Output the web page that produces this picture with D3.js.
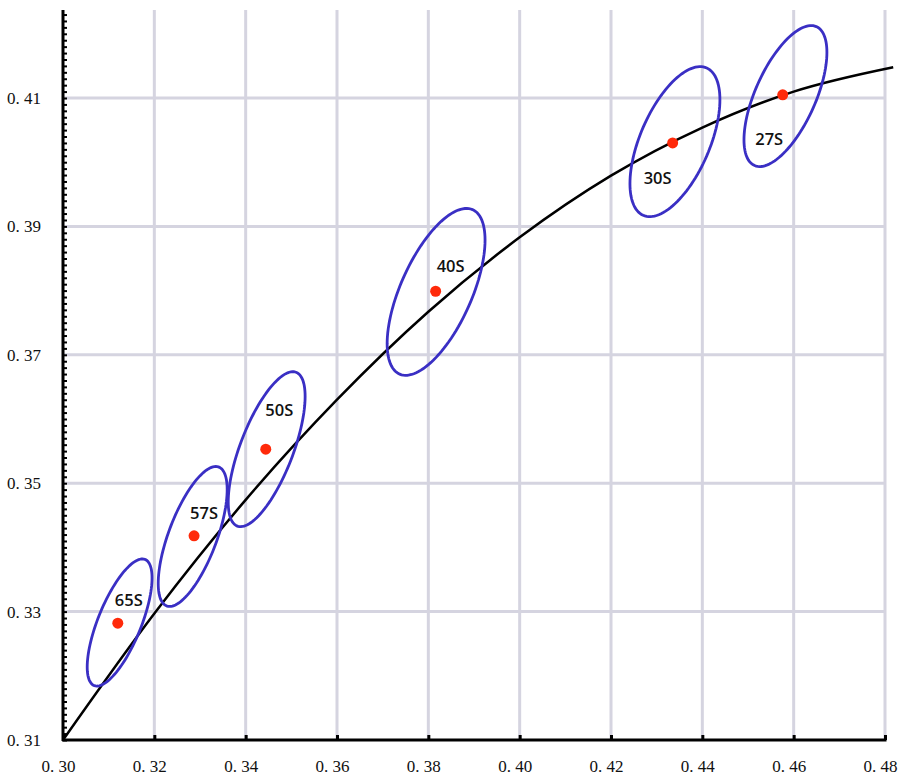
<!DOCTYPE html>
<html>
<head>
<meta charset="utf-8">
<script src="https://cdn.jsdelivr.net/npm/d3@7"></script>
<style>
  body { margin: 0; background: #fff; }
  svg { display: block; }
</style>
</head>
<body>
<div id="chart"></div>
<script>
// tick values
const xTicks = [0.30, 0.32, 0.34, 0.36, 0.38, 0.40, 0.42, 0.44, 0.46, 0.48];
const yTicks = [0.31, 0.33, 0.35, 0.37, 0.39, 0.41];

// samples (red dots)
const samples = ["65S", "57S", "50S", "40S", "30S", "27S"];
const sampleX = [0.3120, 0.3287, 0.3444, 0.3816, 0.4335, 0.4576];
const sampleY = [0.3282, 0.3418, 0.3553, 0.3799, 0.4030, 0.4105];

// error ellipses (centre, sd x, sd y, correlation)
const ellCx = [0.3124, 0.3284, 0.3446, 0.3817, 0.4340, 0.4582];
const ellCy = [0.3283, 0.3417, 0.3553, 0.3798, 0.4032, 0.4103];
const ellSx = [0.0071, 0.00755, 0.00842, 0.01072, 0.00985, 0.00908];
const ellSy = [0.0099, 0.0109, 0.01207, 0.0130, 0.01168, 0.01098];
const ellRho = [0.70, 0.67, 0.68, 0.62, 0.56, 0.62];

// black reference curve
const curveX = [0.30, 0.32, 0.34, 0.36, 0.38, 0.40, 0.42, 0.44, 0.46, 0.4818];
const curveY = [0.310, 0.3297, 0.3474, 0.3630, 0.3767, 0.3883, 0.3979, 0.4054, 0.4110, 0.4148];

const W = 899, H = 778;
const svg = d3.select("#chart").append("svg")
    .attr("width", W)
    .attr("height", H);

const x = d3.scaleLinear().domain([0.30, 0.48]).range([63, 885]);
const y = d3.scaleLinear().domain([0.31, 0.41]).range([740, 98]);
const yTop = 0.4237;

// grid
svg.append("g")
    .selectAll("line.vg")
    .data(xTicks.slice(1))
    .enter().append("line")
    .attr("x1", d => x(d)).attr("x2", d => x(d))
    .attr("y1", y(0.31)).attr("y2", y(yTop))
    .attr("stroke", "#d5d4e0")
    .attr("stroke-width", 3);

svg.append("g")
    .selectAll("line.hg")
    .data(yTicks.slice(1))
    .enter().append("line")
    .attr("x1", x(0.30)).attr("x2", x(0.48))
    .attr("y1", d => y(d)).attr("y2", d => y(d))
    .attr("stroke", "#d5d4e0")
    .attr("stroke-width", 3);

// minor ticks on y axis (inside)
const yMinor = d3.range(310, 424).map(v => v / 1000);
const yMinorAxis = svg.append("g")
    .attr("transform", `translate(${x(0.30)},0)`)
    .call(d3.axisRight(y).tickValues(yMinor).tickSize(4).tickFormat(""));
yMinorAxis.select(".domain").remove();
yMinorAxis.selectAll("line").attr("stroke", "#000").attr("stroke-width", 2);

// x ticks (inside, upward)
const xTickAxis = svg.append("g")
    .attr("transform", `translate(0,${y(0.31)})`)
    .call(d3.axisTop(x).tickValues(xTicks).tickSize(5).tickFormat(""));
xTickAxis.select(".domain").remove();
xTickAxis.selectAll("line").attr("stroke", "#000").attr("stroke-width", 3);

// axis lines
svg.append("line")
    .attr("x1", x(0.30)).attr("x2", x(0.30))
    .attr("y1", y(0.31) + 1).attr("y2", y(yTop))
    .attr("stroke", "#000").attr("stroke-width", 3);
svg.append("line")
    .attr("x1", x(0.30) - 1).attr("x2", x(0.48) + 1.5)
    .attr("y1", y(0.31)).attr("y2", y(0.31))
    .attr("stroke", "#000").attr("stroke-width", 3);

// tick labels
const fmt = d => d3.format(".2f")(d).replace(".", ". ");
const xLab = svg.append("g")
    .attr("transform", `translate(0,${y(0.31)})`)
    .call(d3.axisBottom(x).tickValues(xTicks).tickSize(0).tickPadding(20).tickFormat(fmt));
xLab.select(".domain").remove();
xLab.selectAll("text").attr("dx", -5);
const yLab = svg.append("g")
    .attr("transform", `translate(${x(0.30)},0)`)
    .call(d3.axisLeft(y).tickValues(yTicks).tickSize(0).tickPadding(22).tickFormat(fmt));
yLab.select(".domain").remove();
svg.selectAll(".tick text")
    .attr("font-family", "'Liberation Serif', 'DejaVu Serif', serif")
    .attr("font-size", 17)
    .attr("fill", "#111");

// curve
const line = d3.line()
    .x(d => x(d[0]))
    .y(d => y(d[1]))
    .curve(d3.curveMonotoneX);
svg.append("path")
    .datum(curveX.map((v, i) => [v, curveY[i]]))
    .attr("fill", "none")
    .attr("stroke", "#000")
    .attr("stroke-width", 2.5)
    .attr("d", line);

// ellipses
const ellLine = d3.line()
    .x(d => x(d[0]))
    .y(d => y(d[1]))
    .curve(d3.curveLinearClosed);
samples.forEach((s, i) => {
    const pts = d3.range(0, 120).map(k => {
        const t = k / 120 * 2 * Math.PI;
        const r = ellRho[i];
        return [ellCx[i] + ellSx[i] * Math.cos(t),
                ellCy[i] + ellSy[i] * (r * Math.cos(t) + Math.sqrt(1 - r * r) * Math.sin(t))];
    });
    svg.append("path")
        .datum(pts)
        .attr("fill", "none")
        .attr("stroke", "#3a2fc4")
        .attr("stroke-width", 2.8)
        .attr("d", ellLine);
});

// dots
svg.append("g")
    .selectAll("circle")
    .data(samples)
    .enter().append("circle")
    .attr("cx", (d, i) => x(sampleX[i]))
    .attr("cy", (d, i) => y(sampleY[i]))
    .attr("r", 5.5)
    .attr("fill", "#ff2a0a");

// sample labels, offset from dots in pixels
const labelOffsets = [[11, -23], [10, -22.5], [13.5, -39.5], [15, -25], [-15, 35], [-13.5, 44.5]];
svg.append("g")
    .selectAll("text")
    .data(samples)
    .enter().append("text")
    .attr("x", (d, i) => x(sampleX[i]) + labelOffsets[i][0])
    .attr("y", (d, i) => y(sampleY[i]) + labelOffsets[i][1])
    .attr("dy", "0.36em")
    .attr("text-anchor", "middle")
    .attr("font-family", "'Open Sans', 'Noto Sans', sans-serif")
    .attr("font-weight", 600)
    .attr("font-size", 16.5)
    .attr("fill", "#111")
    .text(d => d);
</script>
</body>
</html>
